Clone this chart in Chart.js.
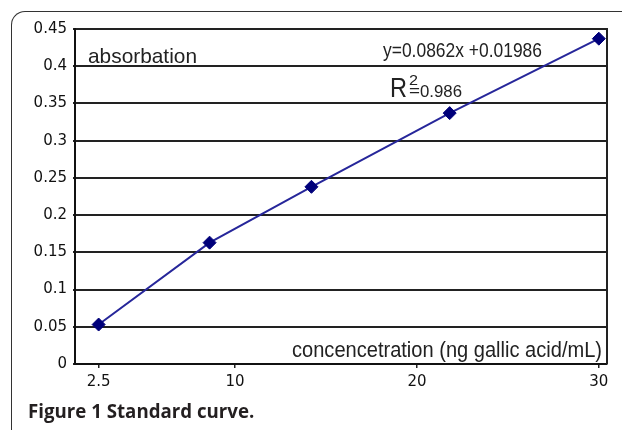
<!DOCTYPE html>
<html lang="en">
<head>
    <meta charset="UTF-8">
    <title>Figure 1 Standard curve</title>
    <script src="https://cdn.jsdelivr.net/npm/chart.js"></script>
    <style>
        html, body {
            margin: 0;
            padding: 0;
            background: #ffffff;
        }
        body {
            width: 622px;
            height: 430px;
            position: relative;
            overflow: hidden;
        }
        .frame {
            position: absolute;
            left: 11px;
            top: 11px;
            width: 700px;
            height: 500px;
            border-top: 1.5px solid #333;
            border-left: 1.5px solid #333;
            border-top-left-radius: 14px;
        }
        #chart-box {
            position: absolute;
            left: 0;
            top: 0;
            width: 622px;
            height: 430px;
        }
        .caption {
            position: absolute;
            left: 28px;
            top: 402px;
            font-family: 'Open Sans', sans-serif;
            font-weight: 700;
            font-size: 18.7px;
            line-height: 18.7px;
            color: #231f20;
            white-space: nowrap;
        }
    </style>
</head>
<body>
    <div class="frame"></div>
    <div id="chart-box">
        <canvas id="curve"></canvas>
    </div>
    <div class="caption">Figure 1 Standard curve.</div>

    <script>
        // values
        const concentration = [2.5, 8.6, 14.2, 21.8, 30];
        const absorbance = [0.053, 0.163, 0.238, 0.337, 0.437];
        const xTicks = [2.5, 10, 20, 30];
        const yTicks = [0, 0.05, 0.1, 0.15, 0.2, 0.25, 0.3, 0.35, 0.4, 0.45];

        const points = concentration.map((c, i) => ({ x: c, y: absorbance[i] }));

        // draw a text squeezed/stretched to a given width (the figure uses a narrow font)
        function fitText(ctx, str, x, y, size, w) {
            ctx.save();
            ctx.font = size + 'px "Liberation Sans", Arial, sans-serif';
            const m = ctx.measureText(str).width;
            ctx.translate(x, y);
            ctx.scale(w / m, 1);
            ctx.fillText(str, 0, 0);
            ctx.restore();
        }

        // right border of the plot + the text labels inside it
        const frameAndNotes = {
            id: 'frameAndNotes',
            beforeDatasetsDraw(chart) {
                const { ctx, chartArea: a } = chart;
                ctx.save();
                ctx.strokeStyle = '#222';
                ctx.lineWidth = 2;
                ctx.beginPath();
                ctx.moveTo(a.right, a.top - 1);
                ctx.lineTo(a.right, a.bottom);
                ctx.stroke();
                ctx.restore();
            },
            afterDatasetsDraw(chart) {
                const { ctx, chartArea: a } = chart;
                ctx.save();
                ctx.fillStyle = '#222';
                ctx.textBaseline = 'alphabetic';
                fitText(ctx, 'absorbation', a.left + 13, a.top + 34, 21, 109);
                fitText(ctx, 'y=0.0862x +0.01986', a.left + 308, a.top + 28, 21, 159);
                fitText(ctx, 'R', a.left + 315, a.top + 68, 27, 17);
                fitText(ctx, '2', a.left + 334, a.top + 56, 14, 9);
                fitText(ctx, '=', a.left + 334, a.top + 67, 14, 11);
                fitText(ctx, '0.986', a.left + 345, a.top + 68, 17, 42);
                fitText(ctx, 'concencetration (ng gallic acid/mL)', a.left + 217, a.bottom - 7, 22, 310);
                ctx.restore();
            }
        };

        const ctx = document.getElementById('curve').getContext('2d');

        new Chart(ctx, {
            type: 'line',
            data: {
                datasets: [{
                    data: points,
                    borderColor: '#26269a',
                    borderWidth: 2,
                    tension: 0,
                    pointStyle: 'rectRot',
                    pointRadius: 6.5,
                    pointBorderWidth: 1,
                    pointBackgroundColor: '#00007a',
                    pointBorderColor: '#00007a',
                    clip: false
                }]
            },
            options: {
                responsive: true,
                maintainAspectRatio: false,
                animation: false,
                layout: {
                    padding: { left: 0, top: 29, right: 15, bottom: 0 }
                },
                plugins: {
                    legend: { display: false },
                    tooltip: { enabled: false }
                },
                scales: {
                    x: {
                        type: 'linear',
                        min: 1.2,
                        max: 30.45,
                        afterBuildTicks: (scale) => {
                            scale.ticks = xTicks.map(v => ({ value: v }));
                        },
                        afterFit: (scale) => { scale.height = 66; },
                        grid: {
                            drawOnChartArea: false,
                            drawTicks: true,
                            tickLength: 4,
                            color: '#222',
                            lineWidth: 1.5
                        },
                        border: { display: true, color: '#111', width: 2 },
                        ticks: {
                            padding: 5,
                            maxRotation: 0,
                            color: '#111',
                            font: { family: '"DejaVu Sans"', size: 15 },
                            callback: (v) => String(v)
                        }
                    },
                    y: {
                        min: 0,
                        max: 0.45,
                        afterBuildTicks: (scale) => {
                            scale.ticks = yTicks.map(v => ({ value: v }));
                        },
                        afterFit: (scale) => { scale.width = 75; },
                        grid: {
                            drawTicks: true,
                            tickLength: 2,
                            color: '#222',
                            lineWidth: 2
                        },
                        border: { display: true, color: '#111', width: 2 },
                        ticks: {
                            padding: 6,
                            color: '#111',
                            font: { family: '"DejaVu Sans"', size: 15 },
                            callback: (v) => String(+v.toFixed(2))
                        }
                    }
                }
            },
            plugins: [frameAndNotes]
        });
    </script>
</body>
</html>
